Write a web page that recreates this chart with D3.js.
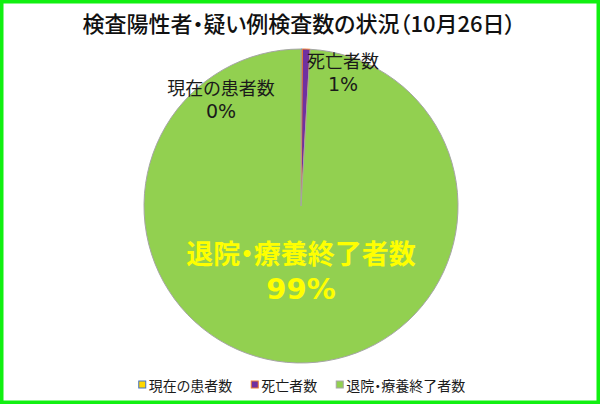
<!DOCTYPE html>
<html>
<head>
<meta charset="utf-8">
<script src="https://cdn.jsdelivr.net/npm/d3@7"></script>
<style>
  body { margin: 0; background: #fff; }
  svg { display: block; font-family: "Noto Sans CJK JP", "Noto Sans", sans-serif; font-feature-settings: "palt"; }
</style>
</head>
<body>
<div id="vis"></div>
<script>
const title = "検査陽性者・疑い例検査数の状況（10月26日）";
const categories = ["現在の患者数", "死亡者数", "退院・療養終了者数"];
const values = [1, 5, 640];
const fills = ["#FFD700", "#7030A0", "#92D050"];
const strokes = ["#4472C4", "#ED7D31", "#A5A5A5"];

const width = 600, height = 404;
const cx = 301, cy = 206, radius = 157;

const svg = d3.select("#vis").append("svg")
  .attr("width", width)
  .attr("height", height);

// frame
svg.append("rect")
  .attr("x", 1.5).attr("y", 1.5)
  .attr("width", width - 3).attr("height", height - 3)
  .attr("fill", "#fff")
  .attr("stroke", "#11F011")
  .attr("stroke-width", 4);

svg.append("text")
  .attr("x", 299).attr("y", 32)
  .attr("text-anchor", "middle")
  .style("font-size", "22px")
  .style("font-weight", 500)
  .attr("fill", "#111")
  .text(title);

const data = categories.map((name, i) => ({ name, value: values[i], i }));
const total = d3.sum(values);

const pie = d3.pie().sort(null).value(d => d.value);
const arc = d3.arc().innerRadius(0).outerRadius(radius);
const arcs = pie(data);

const g = svg.append("g").attr("transform", `translate(${cx},${cy})`);

g.selectAll("path")
  .data(arcs)
  .join("path")
  .attr("d", arc)
  .attr("fill", d => fills[d.data.i])
  .attr("stroke", d => strokes[d.data.i])
  .attr("stroke-width", 1);

// labels (placed like the Excel original, relative to pie centre)
const fmt = d => Math.round(d.value / total * 100) + "%";
const labelPos = [
  { dx: -80, y1: -111, gap: 23, size: 18, size2: 19, color: "#1a1a1a", bold: false },
  { dx: 42, y1: -138, gap: 23, size: 18, size2: 19, color: "#1a1a1a", bold: false },
  { dx: 0, y1: 58, gap: 35, size: 27, size2: 29, color: "#FFFF00", bold: true }
];

const lab = g.selectAll("text.lab")
  .data(arcs)
  .join("text")
  .attr("class", "lab")
  .attr("text-anchor", "middle")
  .style("font-weight", d => labelPos[d.data.i].bold ? "bold" : "normal")
  .attr("fill", d => labelPos[d.data.i].color);

lab.append("tspan")
  .attr("x", d => labelPos[d.data.i].dx)
  .attr("y", d => labelPos[d.data.i].y1)
  .style("font-size", d => labelPos[d.data.i].size + "px")
  .text(d => d.data.name);

lab.append("tspan")
  .attr("x", d => labelPos[d.data.i].dx)
  .attr("y", d => labelPos[d.data.i].y1 + labelPos[d.data.i].gap)
  .style("font-size", d => labelPos[d.data.i].size2 + "px")
  .style("font-family", "'DejaVu Sans', sans-serif")
  .text(d => fmt(d.data));

// legend
const legend = svg.append("g").attr("transform", "translate(0,391)");
const items = legend.selectAll("g")
  .data(data)
  .join("g");

items.append("rect")
  .attr("y", -10)
  .attr("width", 7).attr("height", 7)
  .attr("fill", d => fills[d.i])
  .attr("stroke", d => strokes[d.i])
  .attr("stroke-width", 1);

items.append("text")
  .attr("x", 10)
  .style("font-size", "14px")
  .attr("fill", "#1a1a1a")
  .text(d => d.name);

let xPos = 0;
const offsets = [];
items.each(function() {
  offsets.push(xPos);
  xPos += this.getBBox().width + 19;
});
const legendWidth = xPos - 19;
const start = 302 - legendWidth / 2;
items.attr("transform", (d, i) => `translate(${start + offsets[i]},0)`);
</script>
</body>
</html>
